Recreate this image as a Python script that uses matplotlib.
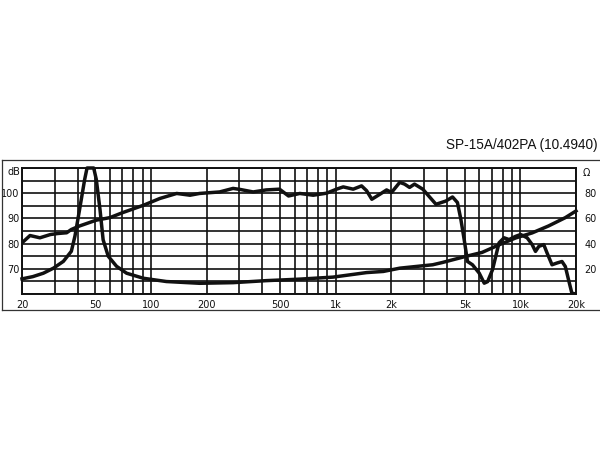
import matplotlib
matplotlib.use("Agg")
import matplotlib.pyplot as plt
from matplotlib.lines import Line2D
import numpy as np

# frequency response [dB]
spl_freq = [20, 22.1, 25.0, 28.5, 31.2, 34.9, 37.0, 41.0, 50.5, 59.8, 70.2, 90.8,
            111.5, 137.6, 162.5, 183, 235, 278, 303, 357, 420, 496, 555, 639, 755,
            891, 1010, 1098, 1243, 1380, 1469, 1568, 1735, 1885, 2006, 2221, 2360,
            2510, 2670, 2960, 3490, 3950, 4290, 4560, 4760, 4960, 5170, 5500, 5980,
            6370, 6640, 7060, 7660, 8160, 8680, 9430, 10030, 10880, 11580, 12070,
            12580, 13380, 13940, 14830, 15780, 16790, 17510, 18230, 19000, 20000]
spl_db = [80.3, 83.2, 82.3, 83.6, 84.0, 84.3, 85.6, 87.0, 89.3, 90.3, 92.3, 95.2,
          97.9, 99.9, 99.2, 99.9, 100.5, 101.9, 101.5, 100.5, 101.3, 101.6, 98.9, 99.9, 99.2,
          100.0, 101.6, 102.5, 101.6, 102.9, 101.0, 97.6, 99.6, 101.3, 100.3, 104.3, 103.6,
          102.3, 103.6, 101.6, 95.6, 96.9, 98.5, 96.3, 89.6, 81.6, 72.9, 71.6, 68.3,
          64.3, 64.9, 69.6, 80.3, 82.3, 81.6, 82.9, 83.6, 82.3, 79.6, 76.9,
          78.9, 79.6, 76.3, 71.6, 72.3, 72.9, 70.9, 65.6, 60.3, 60.0]

# impedance [ohm]
imp_freq = [20, 22.9, 26.1, 29.6, 33.5, 37.0, 38.7, 41.0, 43.7, 45.0, 48.9, 50.5, 52.9,
            55.0, 58.6, 65.0, 73.7, 90.8, 121, 183, 278, 420, 639, 967, 1469, 1810,
            2221, 3350, 3780, 5040, 6200, 7660, 9430, 11580, 14200, 17510, 20000]
imp_ohm = [12, 13.8, 16.5, 20.5, 25.9, 33.9, 45.9, 67, 91, 100, 100, 91, 67,
           43, 30, 22, 16.5, 12.5, 9.9, 8.5, 9, 10.6, 11.8, 13.4, 17, 17.9,
           20.5, 23.2, 25, 29.8, 33, 39, 44.5, 48.5, 54, 60.6, 65.9]

x_ticks = [20, 50, 100, 200, 500, 1000, 2000, 5000, 10000, 20000]
x_labels = ["20", "50", "100", "200", "500", "1k", "2k", "5k", "10k", "20k"]
db_ticks = [70, 80, 90, 100]
ohm_ticks = [20, 40, 60, 80]

fig = plt.figure(figsize=(6, 4.5), dpi=100)
ax = fig.add_axes([22/600, 1-294/450, 554/600, 126/450])

ax.set_xscale("log")
ax.set_xlim(20, 20000)
ax.set_ylim(60, 110)

# grid: every 1-2-3...9 step on log axis, every 5 dB
minor = []
for dec in [10, 100, 1000, 10000]:
    for m in range(1, 10):
        f = dec * m
        if 20 <= f <= 20000:
            minor.append(f)
for f in minor:
    ax.axvline(f, color="#111111", lw=1.2, zorder=1)
for v in np.arange(60, 111, 5):
    ax.axhline(v, color="#111111", lw=1.2, zorder=1)

ax.plot(spl_freq, spl_db, color="#111111", lw=2.5, zorder=3, solid_joinstyle="round")
ax2 = ax.twinx()
ax2.set_ylim(0, 100)
ax2.plot(imp_freq, imp_ohm, color="#111111", lw=2.5, zorder=3, clip_on=False,
         solid_joinstyle="round")
ax2.set_xlim(20, 20000)

for a in (ax, ax2):
    for s in a.spines.values():
        s.set_linewidth(1.2)
        s.set_color("#111111")
    a.tick_params(length=0, labelsize=7, colors="#111111", pad=2)

ax.set_xticks(x_ticks)
ax.set_xticklabels(x_labels)
ax.xaxis.set_minor_locator(plt.NullLocator())
ax.set_yticks(db_ticks)
ax2.set_yticks(ohm_ticks)
ax.tick_params(axis="x", pad=4)
ax.tick_params(axis="y", pad=2)
ax2.tick_params(axis="y", pad=6)

fig.text(0.012, 1-172/450, "dB", fontsize=7, ha="left", va="center", color="#111111")
fig.text(583/600, 1-173/450, "\u03a9", fontsize=7, ha="left", va="center", color="#111111")
fig.text(598/600, 1-145/450, "SP-15A/402PA (10.4940)", fontsize=9.8,
         family="Liberation Sans", ha="right", va="center", color="#111111")

# outer frame
y_top = 1-160/450
y_bot = 1-310/450
x_l = 1.5/600
fig.add_artist(Line2D([x_l, 1], [y_top, y_top], color="#333333", lw=0.9))
fig.add_artist(Line2D([x_l, 1], [y_bot, y_bot], color="#333333", lw=0.9))
fig.add_artist(Line2D([x_l, x_l], [y_bot, y_top], color="#333333", lw=0.9))

fig.savefig("out.png", dpi=100)
